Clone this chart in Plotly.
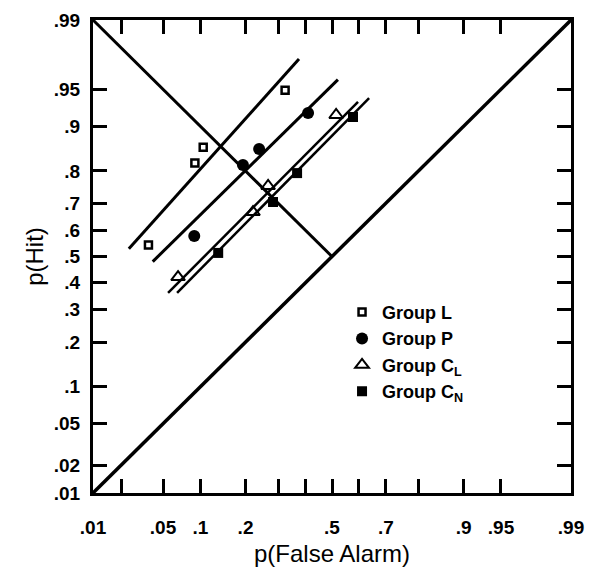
import plotly.graph_objects as go
from statistics import NormalDist

_nd = NormalDist()
def z(p):
    return _nd.inv_cdf(p)

# ---- data (probabilities) ----
groupL_fa  = [0.037, 0.091, 0.105, 0.324]
groupL_hit = [0.545, 0.821, 0.859, 0.949]
groupP_fa  = [0.090, 0.193, 0.239, 0.408]
groupP_hit = [0.580, 0.816, 0.855, 0.921]
groupCL_fa  = [0.067, 0.221, 0.267, 0.516]
groupCL_hit = [0.420, 0.669, 0.756, 0.918]
groupCN_fa  = [0.134, 0.283, 0.367, 0.581]
groupCN_hit = [0.514, 0.704, 0.794, 0.915]

# fitted ROC lines (endpoints, probabilities)
lineL_fa  = [0.024, 0.374]
lineL_hit = [0.530, 0.974]
lineP_fa  = [0.0405, 0.523]
lineP_hit = [0.480, 0.959]
lineCL_fa  = [0.0553, 0.600]
lineCL_hit = [0.360, 0.936]
lineCN_fa  = [0.0658, 0.641]
lineCN_hit = [0.360, 0.9405]

chance_fa  = [0.01, 0.99]
chance_hit = [0.01, 0.99]
minor_fa   = [0.01, 0.5]
minor_hit  = [0.99, 0.5]

tick_probs = [0.01, 0.02, 0.05, 0.1, 0.2, 0.3, 0.4, 0.5, 0.6, 0.7, 0.8, 0.9, 0.95, 0.99]
x_ticktext = ['.01', '', '.05', '.1', '.2', '', '', '.5', '', '.7', '', '.9', '.95', '.99']
y_ticktext = ['.01', '.02', '.05', '.1', '.2', '.3', '.4', '.5', '.6', '.7', '.8', '.9', '.95', '.99']

FONT = "Liberation Sans"

def zl(v):
    return [z(p) for p in v]

fig = go.Figure()

for fa, hit, w in [(chance_fa, chance_hit, 3.5), (minor_fa, minor_hit, 3),
                   (lineL_fa, lineL_hit, 3), (lineP_fa, lineP_hit, 3),
                   (lineCL_fa, lineCL_hit, 2.5), (lineCN_fa, lineCN_hit, 2.5)]:
    fig.add_trace(go.Scatter(x=zl(fa), y=zl(hit), mode='lines',
                             line=dict(color='black', width=w),
                             showlegend=False, hoverinfo='skip'))

fig.add_trace(go.Scatter(x=zl(groupL_fa), y=zl(groupL_hit), mode='markers', name='Group L',
                         marker=dict(symbol='square-open', size=7, color='black',
                                     line=dict(color='black', width=2.5))))
fig.add_trace(go.Scatter(x=zl(groupP_fa), y=zl(groupP_hit), mode='markers', name='Group P',
                         marker=dict(symbol='circle', size=12, color='black')))
fig.add_trace(go.Scatter(x=zl(groupCL_fa), y=zl(groupCL_hit), mode='markers', name='Group C<sub>L</sub>',
                         marker=dict(symbol='triangle-up-open', size=12, color='black',
                                     line=dict(color='black', width=2))))
fig.add_trace(go.Scatter(x=zl(groupCN_fa), y=zl(groupCN_hit), mode='markers', name='Group C<sub>N</sub>',
                         marker=dict(symbol='square', size=10, color='black')))

rng = [z(0.01), z(0.99)]
axis_common = dict(range=rng, showgrid=False, zeroline=False, showline=True,
                   linecolor='black', linewidth=3, mirror='ticks', ticks='inside',
                   ticklen=14, tickwidth=3, tickcolor='black',
                   tickfont=dict(family=FONT, size=19, color='black', weight='bold'))

fig.update_xaxes(tickvals=zl(tick_probs), ticktext=x_ticktext, ticklabelstandoff=15,
                 title=dict(text='p(False Alarm)',
                            font=dict(family=FONT, size=24, color='black'),
                            standoff=9),
                 **axis_common)
fig.update_yaxes(tickvals=zl(tick_probs), ticktext=y_ticktext, ticklabelstandoff=6,
                 title=dict(text='p(Hit)',
                            font=dict(family=FONT, size=24, color='black'),
                            standoff=4),
                 **axis_common)

# page body has an 8px margin; size/margins compensate for it
fig.update_layout(
    width=587, height=562,
    margin=dict(l=85, r=24, t=12, b=77, autoexpand=False),
    plot_bgcolor='white', paper_bgcolor='white',
    showlegend=True,
    legend=dict(x=0.521, y=0.421, xanchor='left', yanchor='top',
                font=dict(family=FONT, size=18, color='black', weight='bold'),
                bgcolor='rgba(0,0,0,0)', borderwidth=0, tracegroupgap=0),
)

fig.write_html("out.html")
